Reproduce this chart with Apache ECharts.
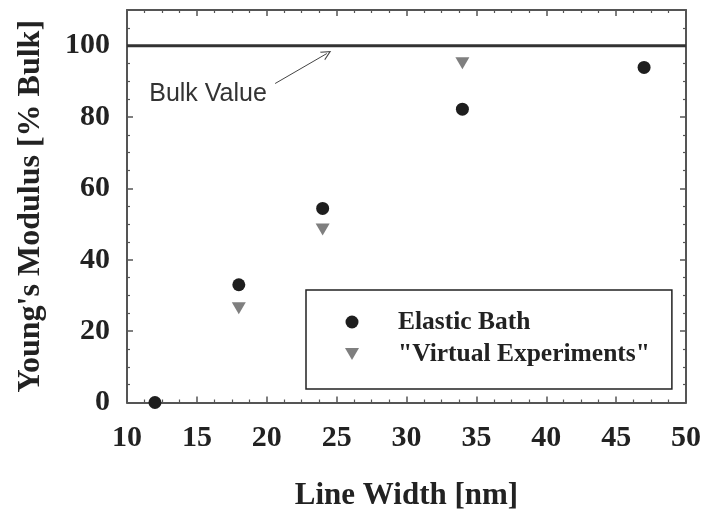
<!DOCTYPE html>
<html>
<head>
<meta charset="utf-8">
<script src="https://cdn.jsdelivr.net/npm/echarts@6/dist/echarts.min.js"></script>
<style>html,body{margin:0;padding:0;background:#fff;}#c{width:702px;height:512px;}</style>
</head>
<body>
<div id="c"></div>
<script>
// ---- data ----
var elasticX = [12, 18, 24, 34, 47];
var elasticY = [0, 33, 54.4, 82.2, 93.9];
var virtualX = [18, 24, 34];
var virtualY = [26.4, 48.5, 95.1];
var bulkX = [10, 50];
var bulkY = [100, 100];
var xTicks = [10, 15, 20, 25, 30, 35, 40, 45, 50];
var yTicks = [0, 20, 40, 60, 80, 100];
var seriesNames = ['Elastic Bath', '"Virtual Experiments"'];
var annotationText = 'Bulk Value';
var annotationPos = [15.8, 86.4];
var arrowFrom = [20.6, 89.4];
var arrowTo = [24.3, 97.8];

function pairs(xs, ys) { return xs.map(function (x, i) { return [x, ys[i]]; }); }

var serif = '"Liberation Serif", "Times New Roman", serif';
var axisCol = '#555';
var downTri = 'path://M0,0 L14,0 L7,12 Z';

var chart = echarts.init(document.getElementById('c'));
var baseAxis = {
  axisLine: { show: true, onZero: false, lineStyle: { color: axisCol, width: 2 } },
  axisTick: { show: true, inside: true, length: 6, lineStyle: { color: axisCol, width: 1.5 } },
  minorTick: { show: true, splitNumber: 4, length: 3, lineStyle: { color: axisCol, width: 1.2 } },
  splitLine: { show: false },
  minorSplitLine: { show: false }
};
chart.setOption({
  backgroundColor: '#fff',
  animation: false,
  grid: { left: 127, right: 16, top: 10, bottom: 109.5, containLabel: false, outerBoundsMode: 'none' },
  xAxis: [
    Object.assign({}, baseAxis, {
      type: 'value', min: xTicks[0], max: xTicks[xTicks.length - 1], interval: 5,
      position: 'bottom',
      name: 'Line Width [nm]', nameLocation: 'middle', nameGap: 78,
      nameTextStyle: { fontFamily: serif, fontWeight: 'bold', fontSize: 31, color: '#222' },
      axisLabel: { margin: 21, fontFamily: serif, fontWeight: 'bold', fontSize: 30, color: '#222' }
    }),
    Object.assign({}, baseAxis, {
      type: 'value', min: xTicks[0], max: xTicks[xTicks.length - 1], interval: 5,
      position: 'top', axisLabel: { show: false }
    })
  ],
  yAxis: [
    Object.assign({}, baseAxis, {
      type: 'value', min: 0, max: 110, interval: 20,
      position: 'left',
      name: "Young's Modulus [% Bulk]", nameLocation: 'middle', nameGap: 80,
      nameTextStyle: { fontFamily: serif, fontWeight: 'bold', fontSize: 32, color: '#222' },
      axisLabel: { margin: 17, fontFamily: serif, fontWeight: 'bold', fontSize: 30, color: '#222',
        formatter: function (v) { return yTicks.indexOf(v) >= 0 ? String(v) : ''; } }
    }),
    Object.assign({}, baseAxis, {
      type: 'value', min: 0, max: 110, interval: 20,
      position: 'right', axisLabel: { show: false }
    })
  ],
  legend: {
    data: [
      { name: seriesNames[0], icon: 'circle' },
      { name: seriesNames[1], icon: downTri }
    ],
    orient: 'vertical',
    left: 306, top: 290,
    padding: [17, 22, 20, 39],
    itemWidth: 14, itemHeight: 13, itemGap: 2,
    borderColor: '#222', borderWidth: 1.5,
    textStyle: { fontFamily: serif, fontWeight: 'bold', fontSize: 25.5, color: '#222',
      lineHeight: 30, padding: [0, 0, 0, 34] }
  },
  series: [
    {
      name: 'Bulk', type: 'line', data: pairs(bulkX, bulkY), symbol: 'none',
      lineStyle: { color: '#333', width: 3 }, z: 1,
      markPoint: {
        symbol: 'circle', symbolSize: 0, silent: true,
        label: { show: true, formatter: annotationText, fontFamily: '"Liberation Sans", Arial, sans-serif',
          fontSize: 25, color: '#333', position: 'inside' },
        data: [{ coord: annotationPos }]
      },
      markLine: {
        silent: true, symbol: ['none', 'path://M0,12 L6,0 L12,12 L10.5,12 L6,3 L1.5,12 Z'],
        symbolSize: [10, 10],
        lineStyle: { color: '#444', width: 1, type: 'solid' },
        label: { show: false },
        data: [[{ coord: arrowFrom }, { coord: arrowTo }]]
      }
    },
    {
      name: seriesNames[0], type: 'scatter', data: pairs(elasticX, elasticY),
      symbol: 'circle', symbolSize: 13, itemStyle: { color: '#1e1e1e', opacity: 1 }, z: 3, clip: false
    },
    {
      name: seriesNames[1], type: 'scatter', data: pairs(virtualX, virtualY),
      symbol: 'triangle', symbolRotate: 180, symbolSize: [14, 12],
      itemStyle: { color: '#7f7f7f', opacity: 1 }, z: 3, clip: false
    }
  ]
});
</script>
</body>
</html>
